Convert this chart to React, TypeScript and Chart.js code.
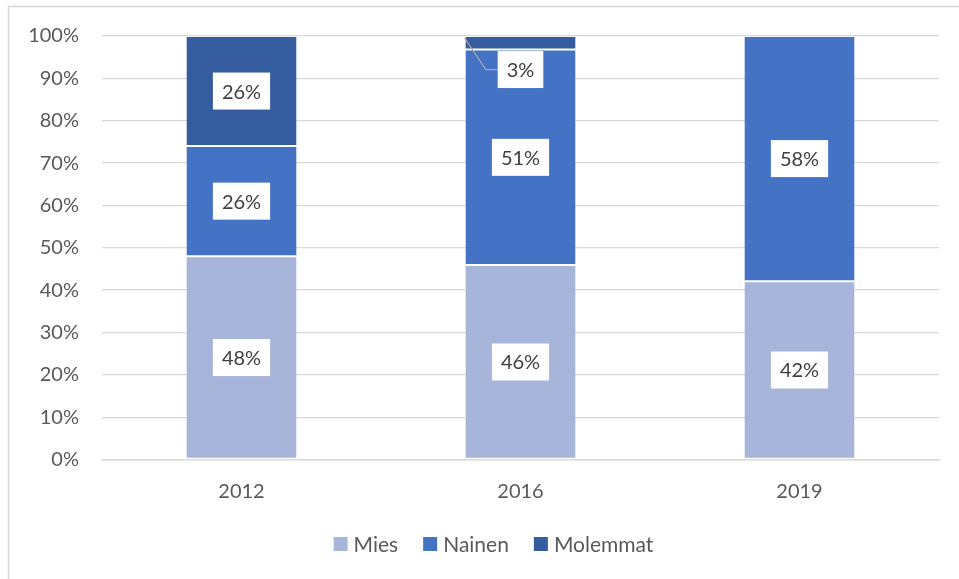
import React, { useEffect, useRef } from "react";
import { Chart, registerables } from "chart.js";

Chart.register(...registerables);

const categories = ["2012", "2016", "2019"];
const seriesNames = ["Mies", "Nainen", "Molemmat"];
const miesValues = [48.0, 45.9, 42.1];
const nainenValues = [26.0, 50.9, 57.9];
const molemmatValues = [26.0, 3.2, 0];
const seriesColors = ["#A8B5DB", "#4472C4", "#345C9F"];

const FONT = "Lato, 'Open Sans', sans-serif";
const TEXT = "#595959";

const labelsPlugin = {
  id: "labelsAndFrame",
  beforeDraw(chart: any) {
    const ctx = chart.ctx;
    ctx.save();
    ctx.fillStyle = "#ffffff";
    ctx.fillRect(0, 0, chart.width, chart.height);
    ctx.strokeStyle = "#D9D9D9";
    ctx.lineWidth = 1.5;
    ctx.strokeRect(8.5, 6.5, chart.width + 20, chart.height + 20);
    ctx.restore();
  },
  afterDatasetsDraw(chart: any) {
    const ctx = chart.ctx;
    ctx.save();
    ctx.font = `20px ${FONT}`;
    ctx.textAlign = "center";
    ctx.textBaseline = "middle";
    chart.data.datasets.forEach((ds: any, di: number) => {
      const meta = chart.getDatasetMeta(di);
      meta.data.forEach((el: any, i: number) => {
        const v = ds.data[i];
        if (!v) return;
        const txt = Math.round(v) + "%";
        const tw = ctx.measureText(txt).width;
        const w = tw + 18;
        const h = 37;
        const segTop = Math.min(el.y, el.base);
        const segH = Math.abs(el.base - el.y);
        let cx = el.x;
        let cy = segTop + segH / 2;
        const small = segH < h;
        if (small) {
          cy = segTop + segH + 20;
          const bl = cx - w / 2;
          ctx.strokeStyle = "#A6A6A6";
          ctx.lineWidth = 1.3;
          ctx.beginPath();
          ctx.moveTo(el.x - el.width / 2, segTop + 2);
          ctx.lineTo(bl - 12, cy);
          ctx.lineTo(bl, cy);
          ctx.stroke();
        }
        ctx.fillStyle = "#ffffff";
        ctx.fillRect(cx - w / 2, cy - h / 2, w, h);
        ctx.fillStyle = "#404040";
        ctx.fillText(txt, cx, cy + 1);
      });
    });
    // legend
    const boxS = 14;
    const gapBT = 6;
    const gapItems = 25;
    ctx.font = `21px ${FONT}`;
    ctx.textAlign = "left";
    const widths = seriesNames.map((n) => boxS + gapBT + ctx.measureText(n).width);
    const total = widths.reduce((a, b) => a + b, 0) + gapItems * (widths.length - 1);
    const area = chart.chartArea;
    let x = (area.left + area.right) / 2 - 27 - total / 2;
    const y = 544;
    seriesNames.forEach((n, i) => {
      ctx.fillStyle = seriesColors[i];
      ctx.fillRect(x, y - boxS / 2, boxS, boxS);
      ctx.fillStyle = TEXT;
      ctx.fillText(n, x + boxS + gapBT, y + 1);
      x += widths[i] + gapItems;
    });
    ctx.restore();
  },
};

export default function App() {
  const ref = useRef<HTMLCanvasElement>(null);
  useEffect(() => {
    if (!ref.current) return;
    const chart = new Chart(ref.current, {
      type: "bar",
      data: {
        labels: categories,
        datasets: [miesValues, nainenValues, molemmatValues].map((d, i) => ({
          label: seriesNames[i],
          data: d,
          backgroundColor: seriesColors[i],
          borderColor: "rgba(255,255,255,0.2)",
          borderWidth: 1,
          borderSkipped: false,
          categoryPercentage: 1,
          barPercentage: 0.4,
        })),
      },
      options: {
        responsive: false,
        animation: false,
        layout: { padding: { left: 0, right: 20, top: 36, bottom: 0 } },
        plugins: {
          legend: { display: false },
          tooltip: { enabled: false },
        },
        scales: {
          x: {
            stacked: true,
            grid: { display: false, drawTicks: false },
            border: { display: true, color: "#D9D9D9", width: 1.5 },
            ticks: { color: TEXT, font: { family: FONT, size: 20 }, padding: 20 },
            afterFit: (s: any) => {
              s.height = 119.5;
            },
          },
          y: {
            stacked: true,
            min: 0,
            max: 100,
            grid: { color: "#D9D9D9", lineWidth: 1.3, drawTicks: false },
            border: { display: false },
            ticks: {
              stepSize: 10,
              color: TEXT,
              font: { family: FONT, size: 20 },
              padding: 23,
              callback: (v: any) => v + "%",
            },
            afterFit: (s: any) => {
              s.width = 102;
            },
          },
        },
      },
      plugins: [labelsPlugin],
    });
    return () => chart.destroy();
  }, []);
  return (
    <div style={{ position: "absolute", left: 0, top: 0, width: 959, height: 579 }}>
      <canvas ref={ref} width={959} height={579} />
    </div>
  );
}
